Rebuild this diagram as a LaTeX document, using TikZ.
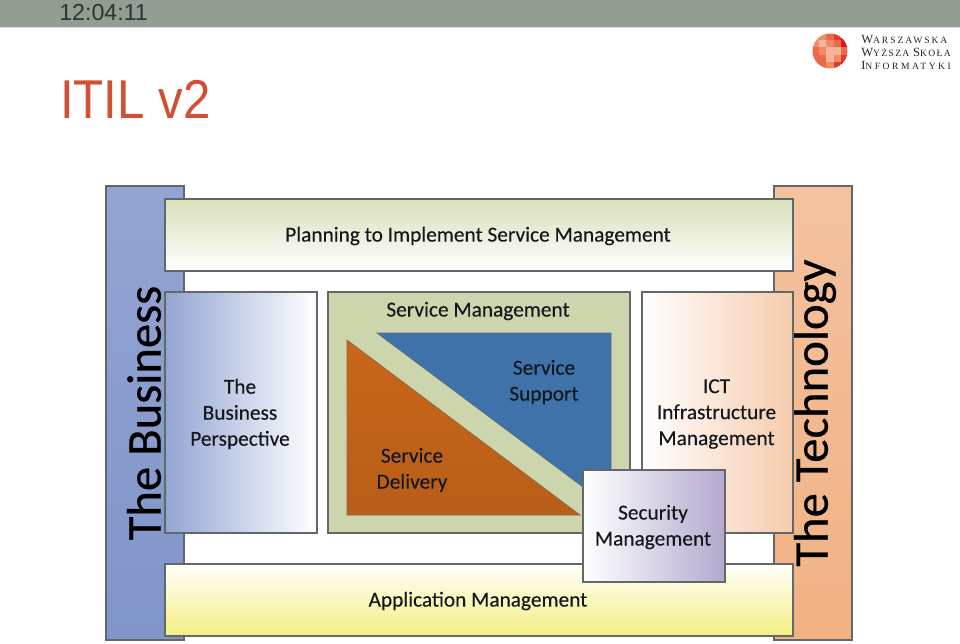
\documentclass[tikz,border=0pt]{standalone}
\usepackage{fontspec}
\setmainfont{Carlito}
\newfontfamily\headfont{Liberation Sans}
\newfontfamily\logofont[LetterSpace=20]{Liberation Serif}
\newfontfamily\sidefont[FakeBold=0.5]{Carlito}
\newfontfamily\labelfont[FakeBold=0.2]{Carlito}
\usetikzlibrary{shadows}
\definecolor{barcol}{HTML}{919F93}
\definecolor{titlecol}{HTML}{D04F35}
\definecolor{timecol}{HTML}{2B3532}
\definecolor{edgecol}{HTML}{62676A}
\definecolor{bizcol}{HTML}{8095CA}
\definecolor{biztop}{HTML}{94A4D2}
\definecolor{techcol}{HTML}{F1B183}
\definecolor{techtop}{HTML}{F4C29F}
\definecolor{smcol}{HTML}{CCD5AC}
\definecolor{plantop}{HTML}{D7DFBA}
\definecolor{appbot}{HTML}{F4EE82}
\definecolor{seccol}{HTML}{B4A8CE}
\definecolor{supportcol}{HTML}{3F72A8}
\definecolor{deliverycol}{HTML}{C8661A}
\definecolor{textcol}{HTML}{14181C}
\definecolor{lg1}{HTML}{F6B49A}
\definecolor{lg2}{HTML}{F08A68}
\definecolor{lg3}{HTML}{EC6A4A}
\definecolor{lg4}{HTML}{E33A2C}
\definecolor{lg5}{HTML}{D9131E}
\tikzset{
	box/.style={draw=edgecol,line width=0.8pt,inner sep=0pt,
		drop shadow={shadow xshift=1pt,shadow yshift=-1pt,fill=black,opacity=0.18}},
	inlabel/.style={inner sep=0pt,align=center,text=textcol,font=\labelfont\fontsize{16}{19.5}\selectfont},
	sidelabel/.style={rotate=90,text=black,inner sep=0pt,font=\sidefont\fontsize{36.5}{40}\selectfont},
	logoline/.style={anchor=base west,inner sep=0pt,text=black!85,font=\logofont\logobig}
}
\newcommand{\logobig}{\fontsize{9.4}{10}\selectfont}
\newcommand{\logosmall}{\fontsize{7.2}{10}\selectfont}
\begin{document}
\begin{tikzpicture}[x=0.75pt,y=-0.75pt]
	\useasboundingbox (0,0) rectangle (960,643);
	\fill[white] (0,0) rectangle (960,643);
	% header
	\fill[barcol] (0,0) rectangle (960,27);
	\draw[gray!30,line width=0.6pt] (0,27.5) -- (960,27.5);
	\node[anchor=base west,inner sep=0pt,text=timecol,font=\headfont\fontsize{17.4}{20}\selectfont] (clock) at (59,20) {12:04:11};
	\node[anchor=base west,inner sep=0pt,xscale=0.9,text=titlecol,font=\headfont\fontsize{41}{48}\selectfont] (title) at (60,118) {ITIL v2};
	% logo
	\begin{scope}
		\clip (830,51) circle (17.5);
		\foreach \col/\row/\shade in {0/0/lg2,1/0/lg2,2/0/lg3,3/0/lg4,4/0/lg5,
				0/1/lg2,1/1/lg1,2/1/lg2,3/1/lg3,4/1/lg5,
				0/2/lg3,1/2/lg2,2/2/lg1,3/2/lg1,4/2/lg3,
				0/3/lg3,1/3/lg3,2/3/lg1,3/3/lg2,4/3/lg4,
				0/4/lg3,1/4/lg3,2/4/lg2,3/4/lg4,4/4/lg5}
			\fill[\shade] (812+7.2*\col,33+7.2*\row) rectangle (819.4+7.2*\col,40.4+7.2*\row);
	\end{scope}
	\node[logoline] (wsk) at (861,43) {W\logosmall ARSZAWSKA};
	\node[logoline] (wyz) at (861,56.5) {\addfontfeature{LetterSpace=14}W\logosmall YŻSZA \logobig S\logosmall KOŁA};
	\node[logoline] (inf) at (861,69) {\addfontfeature{LetterSpace=26}I\logosmall NFORMATYKI};
	% outer columns
	\node[box,top color=biztop,bottom color=bizcol,minimum width=78*0.75pt,minimum height=454*0.75pt] (business) at (145,413) {};
	\node[box,top color=techtop,bottom color=techcol,minimum width=78*0.75pt,minimum height=454*0.75pt] (technology) at (813,413) {};
	\node[sidelabel] (businesslabel) at (144,413) {The Business};
	\node[sidelabel] (technologylabel) at (815,413) {The Technology};
	% rows
	\node[box,top color=plantop,bottom color=white,minimum width=628*0.75pt,minimum height=72*0.75pt] (planning) at (479,235) {};
	\node[inlabel] (planninglabel) at (478,236) {Planning to Implement Service Management};
	\node[box,top color=white!98!yellow,bottom color=appbot,minimum width=628*0.75pt,minimum height=72*0.75pt] (application) at (479,600) {};
	\node[inlabel] (applicationlabel) at (478,601) {Application Management};
	% columns
	\node[box,left color=bizcol!85!white,right color=white,minimum width=152*0.75pt,minimum height=241*0.75pt] (perspective) at (241,412.5) {};
	\node[inlabel] (perspectivelabel) at (240,414) {The\\Business\\Perspective};
	\node[box,left color=white,right color=techtop!85!white,minimum width=151*0.75pt,minimum height=241*0.75pt] (ict) at (717.5,412.5) {};
	\node[inlabel] (ictlabel) at (716.5,414) {ICT\\Infrastructure\\Management};
	\node[box,fill=smcol,minimum width=302*0.75pt,minimum height=241*0.75pt] (mgmt) at (479,412.5) {};
	\node[inlabel] (mgmtlabel) at (478,311) {Service Management};
	% triangles
	\draw[draw=edgecol!60!supportcol,line width=0.5pt,fill=supportcol] (377,333) -- (611,333) -- (611,487) -- (583,487) -- cycle;
	\draw[draw=edgecol!60!deliverycol,line width=0.5pt,top color=deliverycol,bottom color=deliverycol!92!black] (347,340) -- (347,515) -- (580,515) -- cycle;
	\node[inlabel] (support) at (544,382) {Service\\Support};
	\node[inlabel] (delivery) at (412,470) {Service\\Delivery};
	% security on top
	\node[box,left color=white,right color=seccol,minimum width=142*0.75pt,minimum height=112*0.75pt] (security) at (654,526) {};
	\node[inlabel] (securitylabel) at (653,527) {Security\\Management};
\end{tikzpicture}
\end{document}
